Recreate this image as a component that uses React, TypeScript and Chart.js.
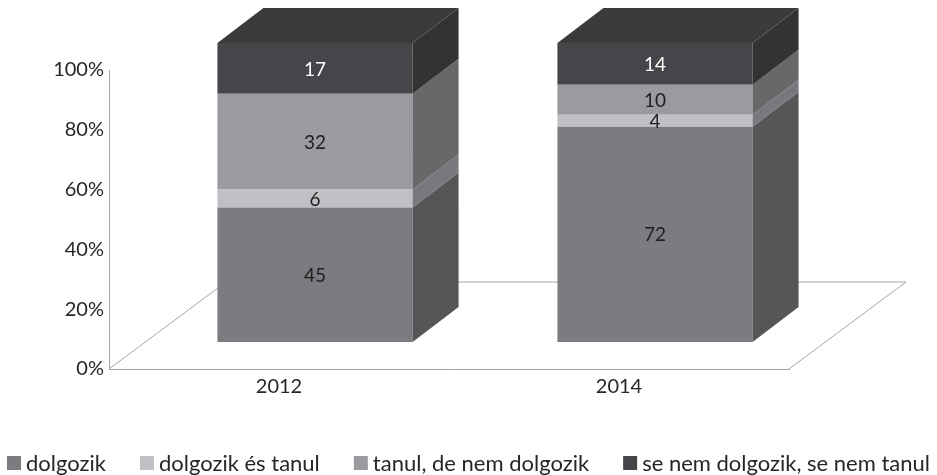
import React, { useEffect, useRef } from "react";
import { Chart, registerables } from "chart.js";

Chart.register(...registerables);

// ---- data ----
const categories = ["2012", "2014"];
const seriesNames = [
  "dolgozik",
  "dolgozik és tanul",
  "tanul, de nem dolgozik",
  "se nem dolgozik, se nem tanul",
];
const dolgozik = [45, 72];
const dolgozikEsTanul = [6, 4];
const tanulDeNemDolgozik = [32, 10];
const seNemDolgozikSeNemTanul = [17, 14];
const yTickValues = [0, 20, 40, 60, 80, 100];

// ---- styles ----
const frontColors = ["#7b7c80", "#bfc0c3", "#9a9b9f", "#454649"];
const sideColors = ["#555658", "#78797c", "#67686a", "#333334"];
const topColor = "#3b3b3c";
const labelColors = ["#1e1e1e", "#1e1e1e", "#1e1e1e", "#ffffff"];
const FONT = "Lato, 'Open Sans', sans-serif";
const FS_LABEL = 19;
const FS_TICK = 20;
const FS_LEGEND = 22;

// 3D geometry (pixels)
const OFF_X = 36;
const OFF_Y = -27;
const DEP_X = 46;
const DEP_Y = -35;
const FLOOR_X = 117;
const FLOOR_Y = -87;

const threeD = {
  id: "threeD",
  beforeDatasetsDraw(chart: any) {
    const { ctx, chartArea: a } = chart;
    ctx.save();
    ctx.strokeStyle = "#a6a6a6";
    ctx.lineWidth = 1;
    ctx.beginPath();
    ctx.moveTo(a.left, a.bottom);
    ctx.lineTo(a.left + FLOOR_X, a.bottom + FLOOR_Y);
    ctx.lineTo(a.right + FLOOR_X, a.bottom + FLOOR_Y);
    ctx.lineTo(a.right, a.bottom);
    ctx.stroke();
    ctx.restore();
    ctx.save();
    ctx.translate(OFF_X, OFF_Y);
  },
  afterDatasetsDraw(chart: any) {
    const { ctx } = chart;
    const n = chart.data.datasets.length;
    chart.data.datasets.forEach((ds: any, di: number) => {
      const meta = chart.getDatasetMeta(di);
      meta.data.forEach((bar: any) => {
        const { x, y, base, width } = bar.getProps(["x", "y", "base", "width"], true);
        const l = x - width / 2;
        const r = x + width / 2;
        ctx.fillStyle = sideColors[di];
        ctx.beginPath();
        ctx.moveTo(r, y);
        ctx.lineTo(r + DEP_X, y + DEP_Y);
        ctx.lineTo(r + DEP_X, base + DEP_Y);
        ctx.lineTo(r, base);
        ctx.closePath();
        ctx.fill();
        if (di === n - 1) {
          ctx.fillStyle = topColor;
          ctx.beginPath();
          ctx.moveTo(l, y);
          ctx.lineTo(l + DEP_X, y + DEP_Y);
          ctx.lineTo(r + DEP_X, y + DEP_Y);
          ctx.lineTo(r, y);
          ctx.closePath();
          ctx.fill();
        }
      });
    });
    // value labels
    ctx.font = `${FS_LABEL}px ${FONT}`;
    ctx.textAlign = "center";
    ctx.textBaseline = "middle";
    chart.data.datasets.forEach((ds: any, di: number) => {
      const meta = chart.getDatasetMeta(di);
      meta.data.forEach((bar: any, i: number) => {
        const { x, y, base } = bar.getProps(["x", "y", "base"], true);
        ctx.fillStyle = labelColors[di];
        ctx.fillText(String(ds.data[i]), x, (y + base) / 2 + 1);
      });
    });
    ctx.restore();
  },
  afterDraw(chart: any) {
    const { ctx } = chart;
    ctx.save();
    ctx.font = `${FS_LEGEND}px ${FONT}`;
    ctx.textBaseline = "middle";
    ctx.textAlign = "left";
    const box = 14;
    const gapBoxText = 5;
    const startX = 7;
    const endX = 930;
    const items = chart.data.datasets.map((ds: any) => ({
      label: ds.label,
      color: ds.backgroundColor,
      w: box + gapBoxText + ctx.measureText(ds.label).width,
    }));
    const sum = items.reduce((s: number, it: any) => s + it.w, 0);
    const itemGap = Math.max(10, (endX - startX - sum) / (items.length - 1));
    let x = startX;
    const cy = 463;
    items.forEach((it: any) => {
      ctx.fillStyle = it.color;
      ctx.fillRect(x, cy - box / 2, box, box);
      ctx.fillStyle = "#262626";
      ctx.fillText(it.label, x + box + gapBoxText, cy + 1);
      x += it.w + itemGap;
    });
    ctx.restore();
  },
};

export default function App() {
  const ref = useRef<HTMLCanvasElement | null>(null);

  useEffect(() => {
    if (!ref.current) return;
    const seriesData = [dolgozik, dolgozikEsTanul, tanulDeNemDolgozik, seNemDolgozikSeNemTanul];
    const chart = new Chart(ref.current, {
      type: "bar",
      data: {
        labels: categories,
        datasets: seriesNames.map((name, i) => ({
          label: name,
          data: seriesData[i],
          backgroundColor: frontColors[i],
          borderWidth: 0,
          categoryPercentage: 1,
          barPercentage: 0.574,
          clip: false as any,
        })),
      },
      options: {
        animation: false,
        responsive: false,
        maintainAspectRatio: false,
        layout: { padding: { left: 0, top: 70, right: 148, bottom: 76 } },
        plugins: {
          legend: { display: false },
          tooltip: { enabled: false },
        },
        scales: {
          x: {
            stacked: true,
            grid: { display: false, drawTicks: false },
            border: { display: true, color: "#a6a6a6", width: 1 },
            ticks: { color: "#262626", font: { family: FONT, size: FS_TICK }, padding: 6 },
            afterFit: (s: any) => {
              s.height = 30;
            },
          },
          y: {
            stacked: true,
            min: 0,
            max: 100,
            grid: { display: false, drawTicks: false },
            border: { display: true, color: "#a6a6a6", width: 1 },
            ticks: {
              color: "#262626",
              font: { family: FONT, size: FS_TICK },
              padding: 5,
              callback: (v: any) => `${v}%`,
            },
            afterBuildTicks: (s: any) => {
              s.ticks = yTickValues.map((v) => ({ value: v }));
            },
            afterFit: (s: any) => {
              s.width = 109;
            },
          },
        },
      },
      plugins: [threeD],
    });
    return () => chart.destroy();
  }, []);

  return (
    <div style={{ position: "fixed", left: 0, top: 0, width: 937, height: 475, background: "#fff" }}>
      <canvas ref={ref} width={937} height={475} style={{ width: 937, height: 475, display: "block" }} />
    </div>
  );
}
